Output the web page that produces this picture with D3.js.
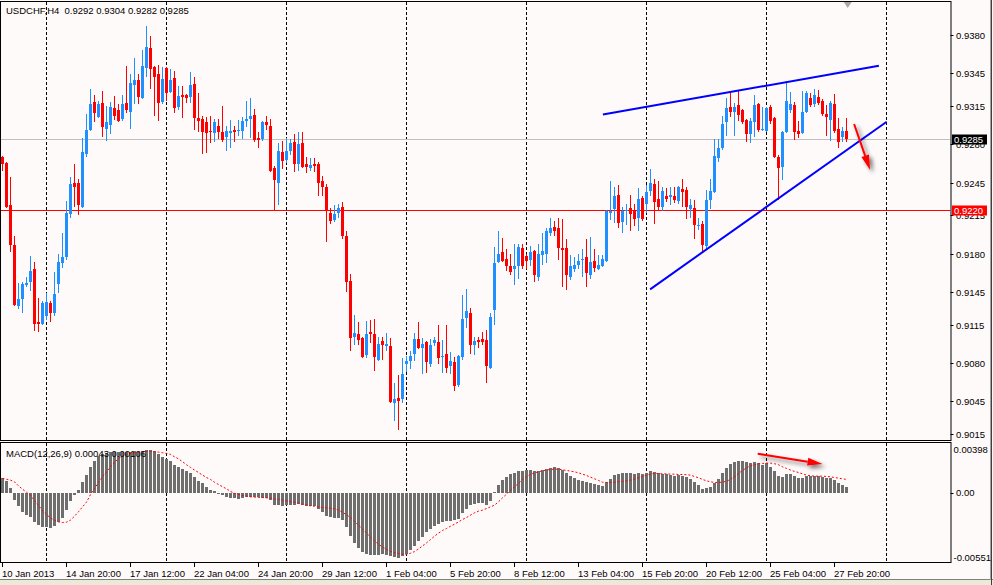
<!DOCTYPE html>
<html>
  <head>
    <meta charset="utf-8" />
    <script src="https://d3js.org/d3.v7.min.js"></script>
    <title>USDCHF,H4</title>
    <style>

      html, body {
        margin: 0;
        padding: 0;
        background: #fffafa;
        overflow: hidden;
      }

      svg {
        display: block;
        font-family: "Liberation Sans", Arial, sans-serif;
        font-size: 9.5px;
      }

      .frame {
        fill: none;
        stroke: #000;
        stroke-width: 1px;
      }

      .grid {
        stroke: #000;
        stroke-width: 1px;
        stroke-dasharray: 3,2;
      }

      .tick {
        stroke: #000;
        stroke-width: 1px;
      }

      .signal {
        fill: none;
        stroke: #ff0000;
        stroke-width: 1px;
        stroke-dasharray: 2,2;
      }

      .trend {
        stroke: #0000ff;
        stroke-width: 2px;
      }

    </style>
  </head>
  <body>

    <svg id="chart" width="993" height="585"></svg>

    <script>

      var symbol = "USDCHF";
      var period = "H4";

      // one entry per H4 bar, 10 Jan 2013 04:00 .. 28 Feb 2013 08:00
      var barOpen = [
        0.9268, 0.9263, 0.9224, 0.9188, 0.9132, 0.9138, 0.9151, 0.9154, 0.9166, 0.9117,
        0.9116, 0.9123, 0.9135, 0.9126, 0.9152, 0.9171, 0.9177, 0.9216, 0.9245, 0.9245,
        0.9223, 0.9271, 0.9293, 0.9319, 0.9305, 0.9318, 0.9294, 0.9298, 0.9313, 0.9311,
        0.9303, 0.9318, 0.9310, 0.9334, 0.9339, 0.9322, 0.9350, 0.9368, 0.9351, 0.9344,
        0.9319, 0.9350, 0.9328, 0.9341, 0.9314, 0.9325, 0.9325, 0.9323, 0.9335, 0.9304,
        0.9303, 0.9300, 0.9292, 0.9290, 0.9297, 0.9291, 0.9287, 0.9290, 0.9293, 0.9292,
        0.9292, 0.9301, 0.9303, 0.9307, 0.9286, 0.9285, 0.9300, 0.9297, 0.9258, 0.9245,
        0.9273, 0.9266, 0.9274, 0.9282, 0.9262, 0.9281, 0.9262, 0.9258, 0.9262, 0.9262,
        0.9246, 0.9241, 0.9217, 0.9211, 0.9217, 0.9223, 0.9196, 0.9155, 0.9104, 0.9106,
        0.9103, 0.9087, 0.9108, 0.9106, 0.9083, 0.9100, 0.9095, 0.9095, 0.9043, 0.9048,
        0.9047, 0.9079, 0.9082, 0.9088, 0.9102, 0.9094, 0.9099, 0.9079, 0.9098, 0.9099,
        0.9085, 0.9088, 0.9077, 0.9081, 0.9060, 0.9085, 0.9121, 0.9126, 0.9096, 0.9101,
        0.9102, 0.9101, 0.9075, 0.9128, 0.9172, 0.9181, 0.9175, 0.9169, 0.9166, 0.9169,
        0.9185, 0.9178, 0.9174, 0.9182, 0.9159, 0.9179, 0.9180, 0.9199, 0.9204, 0.9203,
        0.9185, 0.9185, 0.9159, 0.9166, 0.9170, 0.9174, 0.9177, 0.9160, 0.9173, 0.9166,
        0.9169, 0.9173, 0.9217, 0.9221, 0.9234, 0.9209, 0.9219, 0.9222, 0.9219, 0.9213,
        0.9231, 0.9225, 0.9237, 0.9244, 0.9230, 0.9223, 0.9233, 0.9232, 0.9233, 0.9228,
        0.9239, 0.9238, 0.9221, 0.9222, 0.9205, 0.9207, 0.9187, 0.9229, 0.9236, 0.9267,
        0.9277, 0.9300, 0.9314, 0.9310, 0.9316, 0.9311, 0.9302, 0.9289, 0.9300, 0.9317,
        0.9293, 0.9292, 0.9314, 0.9304, 0.9268, 0.9259, 0.9291, 0.9311, 0.9316, 0.9292,
        0.9290, 0.9310, 0.9322, 0.9317, 0.9323, 0.9320, 0.9308, 0.9302, 0.9317, 0.9294,
        0.9287, 0.9292
      ];

      var barHigh = [
        0.9269, 0.9264, 0.9250, 0.9196, 0.9153, 0.9154, 0.9159, 0.9178, 0.9172, 0.9139,
        0.9137, 0.9144, 0.9137, 0.9163, 0.9180, 0.9199, 0.9228, 0.9250, 0.9262, 0.9248,
        0.9286, 0.9308, 0.9331, 0.9325, 0.9320, 0.9329, 0.9315, 0.9319, 0.9324, 0.9317,
        0.9325, 0.9352, 0.9344, 0.9359, 0.9344, 0.9366, 0.9388, 0.9379, 0.9352, 0.9353,
        0.9351, 0.9351, 0.9349, 0.9347, 0.9333, 0.9333, 0.9326, 0.9346, 0.9342, 0.9327,
        0.9306, 0.9305, 0.9306, 0.9303, 0.9303, 0.9315, 0.9297, 0.9302, 0.9297, 0.9302,
        0.9305, 0.9320, 0.9322, 0.9312, 0.9291, 0.9301, 0.9306, 0.9303, 0.9260, 0.9281,
        0.9283, 0.9286, 0.9285, 0.9289, 0.9291, 0.9291, 0.9268, 0.9267, 0.9267, 0.9264,
        0.9251, 0.9244, 0.9222, 0.9224, 0.9225, 0.9227, 0.9201, 0.9161, 0.9124, 0.9117,
        0.9104, 0.9118, 0.9119, 0.9120, 0.9104, 0.9104, 0.9107, 0.9103, 0.9062, 0.9069,
        0.9084, 0.9086, 0.9091, 0.9107, 0.9117, 0.9103, 0.9100, 0.9102, 0.9104, 0.9115,
        0.9101, 0.9115, 0.9090, 0.9085, 0.9087, 0.9142, 0.9148, 0.9130, 0.9104, 0.9104,
        0.9108, 0.9110, 0.9126, 0.9186, 0.9201, 0.9194, 0.9184, 0.9180, 0.9189, 0.9189,
        0.9189, 0.9180, 0.9187, 0.9183, 0.9189, 0.9199, 0.9203, 0.9213, 0.9210, 0.9213,
        0.9212, 0.9193, 0.9179, 0.9177, 0.9180, 0.9184, 0.9193, 0.9195, 0.9184, 0.9179,
        0.9179, 0.9220, 0.9246, 0.9241, 0.9243, 0.9223, 0.9225, 0.9234, 0.9225, 0.9240,
        0.9233, 0.9243, 0.9257, 0.9248, 0.9246, 0.9241, 0.9240, 0.9241, 0.9241, 0.9242,
        0.9248, 0.9241, 0.9230, 0.9229, 0.9213, 0.9210, 0.9238, 0.9248, 0.9285, 0.9285,
        0.9306, 0.9322, 0.9328, 0.9318, 0.9330, 0.9312, 0.9303, 0.9304, 0.9325, 0.9318,
        0.9314, 0.9314, 0.9316, 0.9305, 0.9270, 0.9292, 0.9338, 0.9328, 0.9319, 0.9301,
        0.9329, 0.9329, 0.9327, 0.9331, 0.9330, 0.9321, 0.9316, 0.9320, 0.9326, 0.9304,
        0.9296, 0.9304
      ];

      var barLow = [
        0.9256, 0.9222, 0.9181, 0.9132, 0.9129, 0.9126, 0.9149, 0.9146, 0.9109, 0.9108,
        0.9115, 0.9119, 0.9117, 0.9123, 0.9144, 0.9167, 0.9174, 0.9213, 0.9223, 0.9215,
        0.9222, 0.9268, 0.9292, 0.9300, 0.9304, 0.9287, 0.9283, 0.9289, 0.9302, 0.9300,
        0.9301, 0.9309, 0.9294, 0.9317, 0.9317, 0.9321, 0.9342, 0.9331, 0.9306, 0.9301,
        0.9317, 0.9320, 0.9327, 0.9309, 0.9311, 0.9304, 0.9318, 0.9318, 0.9293, 0.9291,
        0.9271, 0.9272, 0.9281, 0.9282, 0.9285, 0.9282, 0.9274, 0.9277, 0.9282, 0.9288,
        0.9285, 0.9296, 0.9286, 0.9282, 0.9277, 0.9283, 0.9293, 0.9255, 0.9219, 0.9224,
        0.9257, 0.9263, 0.9270, 0.9255, 0.9256, 0.9258, 0.9254, 0.9256, 0.9255, 0.9233,
        0.9233, 0.9191, 0.9207, 0.9209, 0.9213, 0.9193, 0.9145, 0.9091, 0.9096, 0.9096,
        0.9084, 0.9084, 0.9098, 0.9073, 0.9082, 0.9083, 0.9091, 0.9043, 0.9027, 0.9019,
        0.9043, 0.9072, 0.9074, 0.9082, 0.9093, 0.9070, 0.9071, 0.9076, 0.9095, 0.9079,
        0.9071, 0.9071, 0.9070, 0.9054, 0.9058, 0.9083, 0.9112, 0.9088, 0.9087, 0.9094,
        0.9096, 0.9062, 0.9074, 0.9115, 0.9171, 0.9172, 0.9164, 0.9160, 0.9151, 0.9157,
        0.9166, 0.9166, 0.9169, 0.9154, 0.9155, 0.9170, 0.9171, 0.9196, 0.9196, 0.9174,
        0.9149, 0.9147, 0.9156, 0.9163, 0.9166, 0.9159, 0.9149, 0.9157, 0.9163, 0.9165,
        0.9168, 0.9172, 0.9211, 0.9208, 0.9203, 0.9199, 0.9206, 0.9201, 0.9205, 0.9201,
        0.9210, 0.9217, 0.9233, 0.9207, 0.9220, 0.9219, 0.9227, 0.9224, 0.9226, 0.9225,
        0.9223, 0.9212, 0.9213, 0.9193, 0.9202, 0.9181, 0.9184, 0.9221, 0.9235, 0.9264,
        0.9275, 0.9288, 0.9305, 0.9288, 0.9301, 0.9299, 0.9282, 0.9281, 0.9287, 0.9291,
        0.9292, 0.9291, 0.9299, 0.9267, 0.9229, 0.9247, 0.9290, 0.9309, 0.9284, 0.9286,
        0.9289, 0.9309, 0.9314, 0.9314, 0.9316, 0.9306, 0.9288, 0.9283, 0.9290, 0.9277,
        0.9282, 0.9282
      ];

      var barClose = [
        0.9262, 0.9223, 0.9188, 0.9133, 0.9138, 0.9152, 0.9153, 0.9164, 0.9116, 0.9116,
        0.9135, 0.9136, 0.9126, 0.9143, 0.9172, 0.9177, 0.9217, 0.9244, 0.9241, 0.9224,
        0.9273, 0.9293, 0.9317, 0.9309, 0.9317, 0.9296, 0.9300, 0.9314, 0.9306, 0.9301,
        0.9317, 0.9311, 0.9336, 0.9339, 0.9323, 0.9352, 0.9369, 0.9349, 0.9342, 0.9318,
        0.9340, 0.9327, 0.9339, 0.9313, 0.9324, 0.9323, 0.9322, 0.9334, 0.9304, 0.9301,
        0.9291, 0.9290, 0.9291, 0.9300, 0.9291, 0.9284, 0.9292, 0.9292, 0.9291, 0.9293,
        0.9301, 0.9303, 0.9306, 0.9284, 0.9284, 0.9300, 0.9298, 0.9256, 0.9247, 0.9274,
        0.9265, 0.9274, 0.9281, 0.9262, 0.9280, 0.9259, 0.9259, 0.9261, 0.9260, 0.9245,
        0.9241, 0.9219, 0.9210, 0.9216, 0.9222, 0.9196, 0.9154, 0.9103, 0.9107, 0.9101,
        0.9085, 0.9106, 0.9106, 0.9085, 0.9097, 0.9096, 0.9097, 0.9044, 0.9047, 0.9045,
        0.9070, 0.9082, 0.9086, 0.9102, 0.9094, 0.9097, 0.9081, 0.9096, 0.9101, 0.9084,
        0.9086, 0.9075, 0.9082, 0.9059, 0.9086, 0.9120, 0.9127, 0.9096, 0.9100, 0.9099,
        0.9099, 0.9077, 0.9122, 0.9171, 0.9180, 0.9173, 0.9169, 0.9163, 0.9169, 0.9186,
        0.9169, 0.9173, 0.9181, 0.9160, 0.9180, 0.9182, 0.9201, 0.9203, 0.9201, 0.9185,
        0.9183, 0.9160, 0.9169, 0.9170, 0.9173, 0.9175, 0.9162, 0.9172, 0.9167, 0.9170,
        0.9175, 0.9219, 0.9219, 0.9233, 0.9208, 0.9219, 0.9220, 0.9216, 0.9212, 0.9230,
        0.9212, 0.9236, 0.9245, 0.9227, 0.9223, 0.9237, 0.9230, 0.9234, 0.9229, 0.9241,
        0.9236, 0.9223, 0.9224, 0.9206, 0.9206, 0.9188, 0.9229, 0.9237, 0.9269, 0.9277,
        0.9299, 0.9313, 0.9310, 0.9314, 0.9307, 0.9300, 0.9289, 0.9301, 0.9316, 0.9293,
        0.9294, 0.9313, 0.9301, 0.9268, 0.9258, 0.9291, 0.9320, 0.9317, 0.9291, 0.9289,
        0.9310, 0.9327, 0.9316, 0.9325, 0.9318, 0.9308, 0.9305, 0.9318, 0.9292, 0.9282,
        0.9292, 0.9285
      ];

      // MACD(12,26,9): main histogram and signal line, per bar
      var macdMain = [
        0.00114, 0.00095, 0.00040, -0.00055, -0.00106, -0.00153, -0.00172, -0.00193, -0.00230, -0.00251,
        -0.00269, -0.00269, -0.00277, -0.00261, -0.00232, -0.00198, -0.00135, -0.00063, -0.00016, 0.00021,
        0.00087, 0.00143, 0.00206, 0.00251, 0.00293, 0.00306, 0.00314, 0.00319, 0.00322, 0.00322,
        0.00319, 0.00319, 0.00322, 0.00327, 0.00322, 0.00333, 0.00341, 0.00338, 0.00327, 0.00306,
        0.00285, 0.00264, 0.00248, 0.00222, 0.00201, 0.00185, 0.00169, 0.00156, 0.00124, 0.00090,
        0.00074, 0.00045, 0.00024, 0.00016, -0.00005, -0.00021, -0.00032, -0.00037, -0.00040, -0.00048,
        -0.00040, -0.00032, -0.00032, -0.00032, -0.00032, -0.00037, -0.00037, -0.00058, -0.00098, -0.00098,
        -0.00103, -0.00100, -0.00095, -0.00100, -0.00092, -0.00098, -0.00103, -0.00103, -0.00106, -0.00127,
        -0.00153, -0.00185, -0.00195, -0.00201, -0.00203, -0.00216, -0.00267, -0.00343, -0.00396, -0.00438,
        -0.00467, -0.00480, -0.00488, -0.00491, -0.00491, -0.00486, -0.00488, -0.00502, -0.00507, -0.00515,
        -0.00502, -0.00480, -0.00454, -0.00422, -0.00383, -0.00348, -0.00312, -0.00290, -0.00261, -0.00246,
        -0.00232, -0.00222, -0.00219, -0.00214, -0.00206, -0.00156, -0.00124, -0.00100, -0.00092, -0.00084,
        -0.00079, -0.00098, -0.00063, 0.00008, 0.00061, 0.00100, 0.00127, 0.00145, 0.00153, 0.00172,
        0.00172, 0.00180, 0.00180, 0.00172, 0.00172, 0.00180, 0.00190, 0.00198, 0.00203, 0.00195,
        0.00180, 0.00158, 0.00132, 0.00114, 0.00100, 0.00092, 0.00082, 0.00074, 0.00066, 0.00058,
        0.00053, 0.00082, 0.00106, 0.00140, 0.00145, 0.00153, 0.00156, 0.00156, 0.00150, 0.00156,
        0.00145, 0.00158, 0.00172, 0.00164, 0.00153, 0.00150, 0.00145, 0.00143, 0.00137, 0.00143,
        0.00137, 0.00124, 0.00106, 0.00087, 0.00058, 0.00032, 0.00042, 0.00048, 0.00074, 0.00106,
        0.00153, 0.00195, 0.00227, 0.00243, 0.00251, 0.00248, 0.00240, 0.00232, 0.00240, 0.00232,
        0.00222, 0.00235, 0.00206, 0.00169, 0.00135, 0.00127, 0.00150, 0.00148, 0.00135, 0.00116,
        0.00119, 0.00135, 0.00135, 0.00137, 0.00137, 0.00129, 0.00116, 0.00119, 0.00100, 0.00074,
        0.00061, 0.00043
      ];

      var macdSignal = [
        0.00114, 0.00108, 0.00100, 0.00087, 0.00055, 0.00029, 0.00005, -0.00021, -0.00061, -0.00100,
        -0.00140, -0.00172, -0.00198, -0.00216, -0.00230, -0.00235, -0.00232, -0.00216, -0.00185, -0.00150,
        -0.00111, -0.00074, -0.00013, 0.00034, 0.00082, 0.00127, 0.00166, 0.00206, 0.00240, 0.00272,
        0.00290, 0.00304, 0.00312, 0.00317, 0.00322, 0.00325, 0.00327, 0.00327, 0.00325, 0.00322,
        0.00317, 0.00312, 0.00304, 0.00285, 0.00269, 0.00246, 0.00222, 0.00201, 0.00180, 0.00161,
        0.00140, 0.00121, 0.00106, 0.00084, 0.00066, 0.00048, 0.00032, 0.00011, -0.00003, -0.00013,
        -0.00021, -0.00026, -0.00032, -0.00034, -0.00037, -0.00037, -0.00040, -0.00042, -0.00048, -0.00053,
        -0.00058, -0.00063, -0.00069, -0.00074, -0.00082, -0.00090, -0.00095, -0.00103, -0.00106, -0.00111,
        -0.00116, -0.00119, -0.00121, -0.00127, -0.00137, -0.00153, -0.00174, -0.00195, -0.00224, -0.00256,
        -0.00285, -0.00317, -0.00351, -0.00380, -0.00407, -0.00428, -0.00446, -0.00462, -0.00473, -0.00480,
        -0.00486, -0.00486, -0.00478, -0.00465, -0.00444, -0.00420, -0.00396, -0.00370, -0.00343, -0.00319,
        -0.00298, -0.00282, -0.00264, -0.00248, -0.00230, -0.00211, -0.00195, -0.00177, -0.00158, -0.00145,
        -0.00137, -0.00124, -0.00111, -0.00098, -0.00071, -0.00040, -0.00011, 0.00021, 0.00048, 0.00074,
        0.00106, 0.00127, 0.00145, 0.00158, 0.00166, 0.00174, 0.00180, 0.00185, 0.00187, 0.00187,
        0.00182, 0.00177, 0.00172, 0.00166, 0.00158, 0.00148, 0.00137, 0.00124, 0.00111, 0.00098,
        0.00084, 0.00082, 0.00082, 0.00084, 0.00087, 0.00090, 0.00095, 0.00100, 0.00108, 0.00119,
        0.00129, 0.00140, 0.00148, 0.00153, 0.00153, 0.00150, 0.00150, 0.00148, 0.00148, 0.00145,
        0.00145, 0.00143, 0.00140, 0.00129, 0.00119, 0.00106, 0.00095, 0.00087, 0.00082, 0.00082,
        0.00084, 0.00092, 0.00106, 0.00127, 0.00153, 0.00177, 0.00198, 0.00214, 0.00222, 0.00230,
        0.00232, 0.00235, 0.00235, 0.00230, 0.00222, 0.00206, 0.00193, 0.00180, 0.00169, 0.00161,
        0.00150, 0.00140, 0.00135, 0.00132, 0.00132, 0.00132, 0.00129, 0.00127, 0.00121, 0.00116,
        0.00111, 0.00106
      ];

      // axis labels
      var priceTicks = [0.9380, 0.9345, 0.9315, 0.9280, 0.9245, 0.9215, 0.9180, 0.9145, 0.9115, 0.9080, 0.9045, 0.9015];
      var macdTicks = [0.00398, 0.00, -0.00551];
      var timeLabels = [
        "10 Jan 2013", "14 Jan 20:00", "17 Jan 12:00", "22 Jan 04:00", "24 Jan 20:00",
        "29 Jan 12:00", "1 Feb 04:00", "5 Feb 20:00", "8 Feb 12:00", "13 Feb 04:00",
        "15 Feb 20:00", "20 Feb 12:00", "25 Feb 04:00", "27 Feb 20:00"
      ];
      var timeLabelStep = 16;                          // bars between two time labels
      var weekStartBars = [11, 41, 71, 101, 131, 161, 191, 221];

      // horizontal price lines: bid and a drawn level
      var bidPrice = 0.9285;
      var levelPrice = 0.9220;

      // drawn objects: [bar, price] pairs
      var trendLines = [
        [[150.1, 0.93072], [219.1, 0.93519]],
        [[161.9, 0.91473], [221.05, 0.93006]]
      ];
      var priceArrow = [[212.9, 0.92986], [216.9, 0.92565]];
      var macdArrow = [[188.8, 0.00309], [205.0, 0.00228]];

      var width = 993;
      var height = 585;
      var plotRight = 950.5;
      var lastBar = barClose.length - 1;

      var svg = d3.select("#chart");

      var x = d3.scaleLinear()
        .domain([0, 237])
        .range([2.5, plotRight]);

      var y = d3.scaleLinear()
        .domain([0.9015, 0.9380])
        .range([433.9, 35]);

      var ym = d3.scaleLinear()
        .domain([-0.00551, 0.00398])
        .range([562.5, 442.5]);

      var defs = svg.append("defs");

      defs.append("clipPath").attr("id", "clipMain")
        .append("rect").attr("x", 1).attr("y", 2).attr("width", plotRight - 1).attr("height", 438);

      defs.append("clipPath").attr("id", "clipMacd")
        .append("rect").attr("x", 1).attr("y", 443).attr("width", plotRight - 1).attr("height", 119);

      var shadow = defs.append("filter").attr("id", "shadow")
        .attr("x", "-50%").attr("y", "-50%").attr("width", "200%").attr("height", "200%");
      shadow.append("feGaussianBlur").attr("in", "SourceAlpha").attr("stdDeviation", 2.2).attr("result", "blur");
      shadow.append("feOffset").attr("in", "blur").attr("dx", 3).attr("dy", 3).attr("result", "off");
      shadow.append("feComponentTransfer").attr("in", "off").attr("result", "soft")
        .append("feFuncA").attr("type", "linear").attr("slope", 0.55);
      var merge = shadow.append("feMerge");
      merge.append("feMergeNode").attr("in", "soft");
      merge.append("feMergeNode").attr("in", "SourceGraphic");

      // background + window bits
      svg.append("rect").attr("width", width).attr("height", height).attr("fill", "#fffafa");
      svg.append("rect").attr("x", 0).attr("y", 579).attr("width", width).attr("height", 6).attr("fill", "#ece9d8");
      svg.append("line").attr("x1", 0).attr("x2", width).attr("y1", 579.5).attr("y2", 579.5)
        .attr("stroke", "#808080");
      svg.append("line").attr("x1", 990.5).attr("x2", 990.5).attr("y1", 0).attr("y2", 580)
        .attr("stroke", "#a0a0a0");
      svg.append("line").attr("x1", 991.5).attr("x2", 991.5).attr("y1", 0).attr("y2", 585)
        .attr("stroke", "#404040");

      var bars = d3.range(barClose.length);

      // ---------- price panel ----------
      var main = svg.append("g").attr("clip-path", "url(#clipMain)");

      main.selectAll(".vgrid")
        .data(weekStartBars)
        .enter().append("line")
        .attr("class", "grid")
        .attr("x1", function(d) { return x(d); })
        .attr("x2", function(d) { return x(d); })
        .attr("y1", 2)
        .attr("y2", 440);

      main.append("line")
        .attr("x1", 1).attr("x2", plotRight)
        .attr("y1", Math.round(y(bidPrice)) + 0.5).attr("y2", Math.round(y(bidPrice)) + 0.5)
        .attr("stroke", "#c0c0c0");

      main.append("line")
        .attr("x1", 1).attr("x2", plotRight)
        .attr("y1", Math.round(y(levelPrice)) + 0.5).attr("y2", Math.round(y(levelPrice)) + 0.5)
        .attr("stroke", "#ff0000");

      var candle = main.selectAll(".candle")
        .data(bars)
        .enter().append("g")
        .attr("class", "candle")
        .attr("shape-rendering", "crispEdges")
        .attr("fill", function(i) { return barClose[i] >= barOpen[i] ? "#1e90ff" : "#ff0000"; })
        .attr("stroke", function(i) { return barClose[i] >= barOpen[i] ? "#1e90ff" : "#ff0000"; });

      candle.append("line")
        .attr("x1", function(i) { return x(i); })
        .attr("x2", function(i) { return x(i); })
        .attr("y1", function(i) { return y(barHigh[i]); })
        .attr("y2", function(i) { return y(barLow[i]); });

      candle.append("rect")
        .attr("stroke", "none")
        .attr("x", function(i) { return x(i) - 1.5; })
        .attr("width", 3)
        .attr("y", function(i) { return y(Math.max(barOpen[i], barClose[i])); })
        .attr("height", function(i) {
          return Math.max(1, Math.abs(y(barOpen[i]) - y(barClose[i])));
        });

      main.selectAll(".trend")
        .data(trendLines)
        .enter().append("line")
        .attr("class", "trend")
        .attr("x1", function(d) { return x(d[0][0]); })
        .attr("y1", function(d) { return y(d[0][1]); })
        .attr("x2", function(d) { return x(d[1][0]); })
        .attr("y2", function(d) { return y(d[1][1]); });

      function drawArrow(parent, x1, y1, x2, y2) {
        var ang = Math.atan2(y2 - y1, x2 - x1);
        var headLen = 15, headHalf = 4;
        var bx = x2 - headLen * Math.cos(ang), by = y2 - headLen * Math.sin(ang);
        var nx = -Math.sin(ang), ny = Math.cos(ang);
        var g = parent.append("g").attr("filter", "url(#shadow)");
        g.append("line")
          .attr("x1", x1).attr("y1", y1).attr("x2", bx).attr("y2", by)
          .attr("stroke", "#ff0000").attr("stroke-width", 2);
        g.append("path")
          .attr("d", "M" + x2 + "," + y2 +
                     "L" + (bx + nx * headHalf) + "," + (by + ny * headHalf) +
                     "L" + (bx - nx * headHalf) + "," + (by - ny * headHalf) + "Z")
          .attr("fill", "#ff0000");
      }

      drawArrow(main, x(priceArrow[0][0]), y(priceArrow[0][1]), x(priceArrow[1][0]), y(priceArrow[1][1]));

      // chart-shift marker
      svg.append("path")
        .attr("d", "M" + (x(lastBar + 0.3) - 4) + ",2L" + (x(lastBar + 0.3) + 4) + ",2L" + x(lastBar + 0.3) + ",8Z")
        .attr("fill", "#a8a8a8");

      svg.append("rect").attr("class", "frame")
        .attr("x", 0.5).attr("y", 1.5).attr("width", plotRight).attr("height", 439);

      svg.append("text")
        .attr("x", 6).attr("y", 14)
        .attr("xml:space", "preserve")
        .style("white-space", "pre")
        .text(symbol + "," + period + "  " +
              [barOpen[lastBar], barHigh[lastBar], barLow[lastBar], barClose[lastBar]]
                .map(function(v) { return v.toFixed(4); }).join(" "));

      // price axis
      var pAxis = svg.append("g");
      priceTicks.forEach(function(p) {
        var yy = Math.round(y(p)) + 0.5;
        pAxis.append("line").attr("class", "tick")
          .attr("x1", plotRight).attr("x2", plotRight + 3).attr("y1", yy).attr("y2", yy);
        pAxis.append("text")
          .attr("x", 956).attr("y", yy).attr("dy", "0.35em")
          .text(p.toFixed(4));
      });

      [[bidPrice, "#000000"], [levelPrice, "#ff0000"]].forEach(function(d) {
        var yy = Math.round(y(d[0])) + 0.5;
        pAxis.append("rect")
          .attr("x", 952).attr("y", yy - 5).attr("width", 35).attr("height", 10)
          .attr("fill", d[1]);
        pAxis.append("text")
          .attr("x", 954).attr("y", yy).attr("dy", "0.35em")
          .attr("fill", "#ffffff")
          .text(d[0].toFixed(4));
      });

      // ---------- MACD panel ----------
      var macd = svg.append("g").attr("clip-path", "url(#clipMacd)");

      macd.selectAll(".vgrid")
        .data(weekStartBars)
        .enter().append("line")
        .attr("class", "grid")
        .attr("x1", function(d) { return x(d); })
        .attr("x2", function(d) { return x(d); })
        .attr("y1", 443)
        .attr("y2", 562);

      macd.selectAll(".hist")
        .data(bars)
        .enter().append("rect")
        .attr("class", "hist")
        .attr("shape-rendering", "crispEdges")
        .attr("fill", "#6e6e6e")
        .attr("x", function(i) { return x(i) - 1.5; })
        .attr("width", 3)
        .attr("y", function(i) { return Math.min(ym(0), ym(macdMain[i])); })
        .attr("height", function(i) { return Math.max(1, Math.abs(ym(macdMain[i]) - ym(0))); });

      var signalLine = d3.line()
        .x(function(i) { return x(i); })
        .y(function(i) { return ym(macdSignal[i]); });

      macd.append("path")
        .attr("class", "signal")
        .attr("d", signalLine(bars));

      drawArrow(macd, x(macdArrow[0][0]), ym(macdArrow[0][1]), x(macdArrow[1][0]), ym(macdArrow[1][1]));

      svg.append("rect").attr("class", "frame")
        .attr("x", 0.5).attr("y", 442.5).attr("width", plotRight).attr("height", 120);

      svg.append("text")
        .attr("x", 6).attr("y", 457)
        .text("MACD(12,26,9) " + macdMain[lastBar].toFixed(5) + " " + macdSignal[lastBar].toFixed(5));

      var mAxis = svg.append("g");
      macdTicks.forEach(function(v, k) {
        var yy = ym(v);
        var txt = v === 0 ? "0.00" : v.toFixed(5);
        if (k === 1) {
          mAxis.append("line").attr("class", "tick")
            .attr("x1", plotRight).attr("x2", plotRight + 3)
            .attr("y1", Math.round(yy) + 0.5).attr("y2", Math.round(yy) + 0.5);
        }
        mAxis.append("text")
          .attr("x", k === 1 ? 956 : 953.5)
          .attr("y", k === 0 ? yy + 7 : (k === 2 ? yy - 5 : yy))
          .attr("dy", "0.35em")
          .text(txt);
      });

      // ---------- time axis ----------
      var tAxis = svg.append("g");
      timeLabels.forEach(function(label, k) {
        var xx = x(k * timeLabelStep);
        tAxis.append("line").attr("class", "tick")
          .attr("x1", xx).attr("x2", xx).attr("y1", 563).attr("y2", 567);
        tAxis.append("text")
          .attr("x", xx - 0.5).attr("y", 577)
          .text(label);
      });

    </script>

  </body>
</html>
